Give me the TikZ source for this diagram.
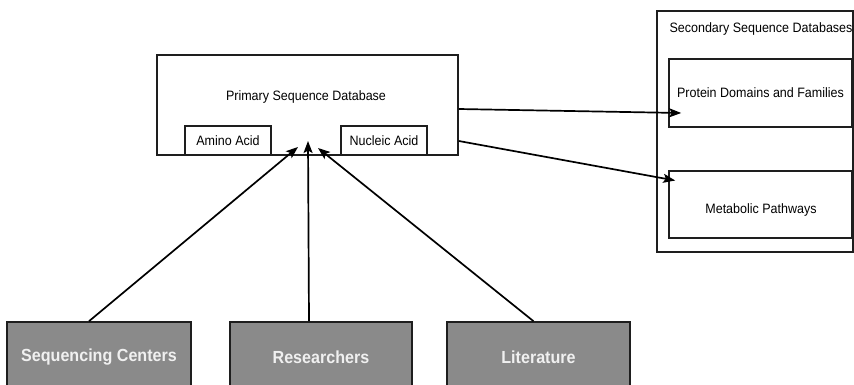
\documentclass[tikz,border=0pt]{standalone}
\usepackage{fontspec}
\setmainfont{Liberation Sans}[FakeStretch=0.92]
\usetikzlibrary{arrows.meta,calc}
\definecolor{srcgray}{HTML}{8A8A8A}
\definecolor{linegray}{HTML}{1E1E1E}
\begin{document}
\begin{tikzpicture}[x=1pt,y=-1pt,
  box/.style={draw=linegray,line width=1.6pt,fill=white,inner sep=0pt,
    font=\fontsize{13.6}{15}\selectfont},
  srcbox/.style={draw=linegray,line width=1.6pt,fill=srcgray,inner sep=0pt,
    minimum width=184,minimum height=70,text=white!94!black,
    font=\fontsize{17.5}{20}\selectfont\bfseries},
  link/.style={draw=black,line width=1.7pt,
    -{Stealth[length=12pt,width=9pt,inset=2.5pt]}}]
\useasboundingbox (0,0) rectangle (854,384);

% secondary databases
\node[box,minimum width=196,minimum height=241] (sec) at (755,131.5) {};
\node[font=\fontsize{13.6}{15}\selectfont,anchor=west] (sectitle) at (666,29) {Secondary Sequence Databases};
\node[box,minimum width=183,minimum height=68] (prot) at (760.5,93) {Protein Domains and Families};
\node[box,minimum width=183,minimum height=67] (metab) at (760.5,204.5) {};
\node[font=\fontsize{13.6}{15}\selectfont] (metabtxt) at (761,210) {Metabolic Pathways};

% primary database
\node[box,minimum width=301,minimum height=100] (prim) at (307.5,105) {};
\node[font=\fontsize{13.6}{15}\selectfont] (primtxt) at (306,97) {Primary Sequence Database};
\node[box,minimum width=86,minimum height=29] (amino) at (228,140.5) {Amino Acid};
\node[box,minimum width=86,minimum height=29] (nucl) at (384,140.5) {Nucleic Acid};

% data sources
\node[srcbox] (seq) at (99,357) {Sequencing Centers};
\node[srcbox,minimum width=182] (res) at (321,357) {Researchers};
\node[srcbox,minimum width=183] (lit) at (538.5,357) {Literature};

% arrow end points under the primary database
\coordinate (tipL) at (298,147);
\coordinate (tipM) at (308,141);
\coordinate (tipR) at (318,148);

\draw[link] ([xshift=-10pt]seq.north) -- (tipL);
\draw[link] ([xshift=-12pt]res.north) -- (tipM);
\draw[link] ([xshift=-5pt]lit.north) -- (tipR);

\draw[link] ($(prim.east)+(0,4)$) -- ($(prot.west)+(13,20)$);
\draw[link] ($(prim.east)+(0,36)$) -- ($(metab.west)+(7,-24)$);
\end{tikzpicture}
\end{document}
